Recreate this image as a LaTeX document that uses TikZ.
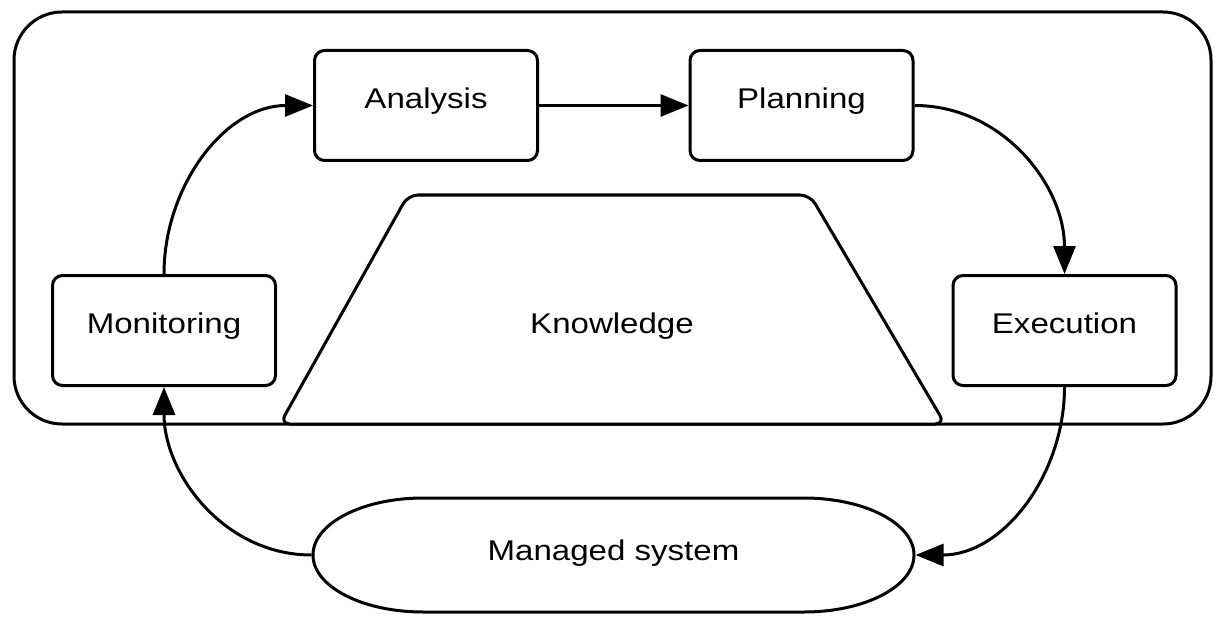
\documentclass[tikz,border=0pt]{standalone}
\usepackage{fontspec}
\setmainfont{Liberation Sans}[FakeStretch=1.16]
\usetikzlibrary{arrows.meta}
\begin{document}
\begin{tikzpicture}[x=1pt,y=1pt,line width=3pt,line join=round,
  txt/.style={font=\fontsize{28.5}{34}\selectfont,text height=16pt,text depth=10pt},
  box/.style={txt,draw,rounded corners=10,minimum width=223,minimum height=110},
  arr/.style={-{Triangle[length=28pt,width=22pt]}}]
\useasboundingbox (0,0) rectangle (1225,625);
% outer loop frame
\draw[rounded corners=48] (14,201) rectangle (1211,613);
% knowledge trapezoid
\draw[rounded corners=10,fill=white] (280,201) -- (408,430) -- (810,430) -- (945,201) -- cycle;
\node[txt] (know) at (612,294.5) {Knowledge};
% boxes
\node[box] (mon) at (164,294.5) {Monitoring};
\node[box] (ana) at (426,519.5) {Analysis};
\node[box] (pla) at (801.5,519.5) {Planning};
\node[box] (exe) at (1064.5,294.5) {Execution};
% managed system
\draw (423,127) -- (804,127) .. controls (864.7,127) and (914,101.5) .. (914,70)
  .. controls (914,38.5) and (864.7,13) .. (804,13) -- (423,13)
  .. controls (362.3,13) and (313,38.5) .. (313,70)
  .. controls (313,101.5) and (362.3,127) .. cycle;
\node[txt,text depth=5pt,minimum width=601,minimum height=114,inner sep=0pt] (ms) at (613.5,70) {Managed system};
% connectors
\draw[arr] (mon.north) to[out=90,in=180] (ana.west);
\draw[arr] (ana.east) -- (pla.west);
\draw[arr] (pla.east) to[out=0,in=90] (exe.north);
\draw[arr] (exe.south) to[out=-90,in=0] (ms.east);
\draw[arr] (ms.west) to[out=180,in=-90] (mon.south);
\end{tikzpicture}
\end{document}
